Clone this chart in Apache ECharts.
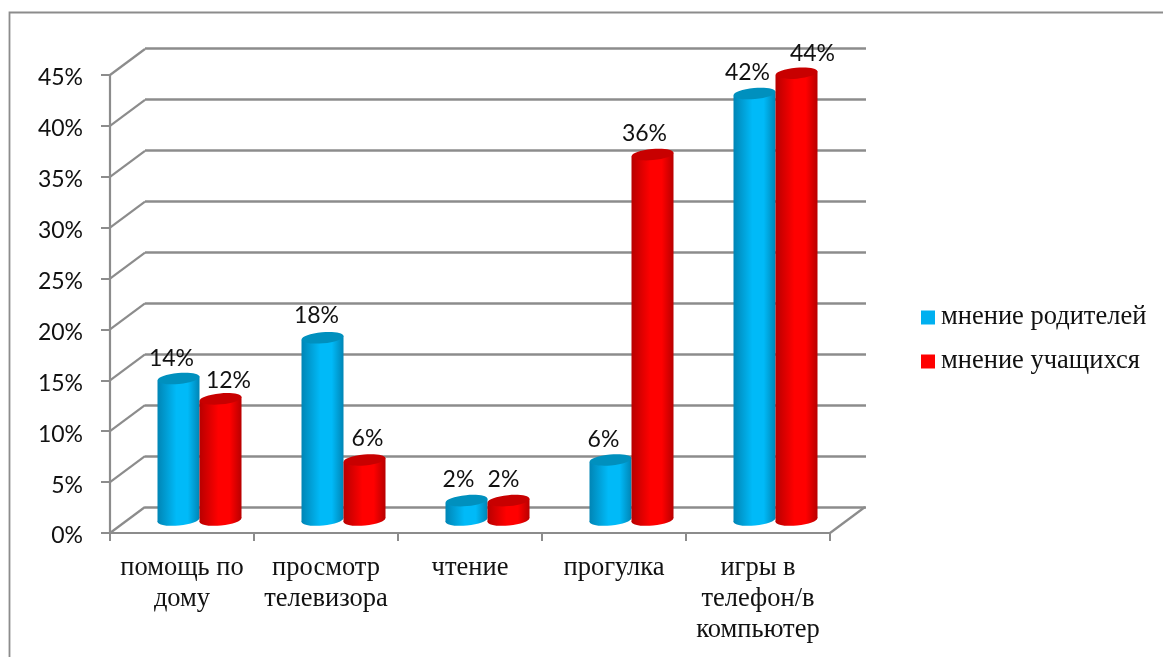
<!DOCTYPE html>
<html><head><meta charset="utf-8">
<style>html,body{margin:0;padding:0;background:#fff}#c{width:1163px;height:657px}</style>
<script src="https://cdn.jsdelivr.net/npm/echarts@6/dist/echarts.min.js"></script>
</head><body><div id="c"></div>
<script>
const categories = ['помощь по\nдому', 'просмотр\nтелевизора', 'чтение', 'прогулка', 'игры в\nтелефон/в\nкомпьютер'];
const parents = [14, 18, 2, 6, 42];
const students = [12, 6, 2, 36, 44];
const parentsName = 'мнение родителей';
const studentsName = 'мнение учащихся';
const yTicks = [0, 5, 10, 15, 20, 25, 30, 35, 40, 45];

// label nudges relative to the cylinder top, per series / category
const nudgeParents = [[-7, -20], [-6, -22], [-8, -21], [-7, -20], [-7, -21]];
const nudgeStudents = [[8, -18], [3, -21], [-5, -21], [-8, -21], [16, -20]];

const GREY = '#8c8c8c';
const DEPTH = [35, -26];
const W = 42, RY = 5.5, TILT = 2, ROT = 0.09;
const chart = echarts.init(document.getElementById('c'), null, {renderer: 'canvas'});

function cyl(side, dark, mid, topColor, nudge) {
  return function (params, api) {
    const i = api.value(0), v = api.value(1);
    const top = api.coord([i, v]), base = api.coord([i, 0]);
    const x0 = top[0] + DEPTH[0] / 2 + (side < 0 ? -W : 0), x1 = x0 + W, cx = x0 + W / 2;
    const ty = top[1] + DEPTH[1] / 2 + 1, by = base[1] + DEPTH[1] / 2;
    const fill = new echarts.graphic.LinearGradient(0, 0, 1, 0, [
      {offset: 0, color: dark}, {offset: 0.45, color: mid}, {offset: 0.72, color: mid}, {offset: 1, color: dark}]);
    return {type: 'group', children: [
      {type: 'ellipse', x: cx, y: by, rotation: ROT, shape: {cx: 0, cy: 0, rx: W / 2, ry: RY}, style: {fill}},
      {type: 'polygon', shape: {points: [[x0, ty + TILT], [x1, ty - TILT], [x1, by - TILT], [x0, by + TILT]]}, style: {fill}},
      {type: 'ellipse', x: cx, y: ty, rotation: ROT, shape: {cx: 0, cy: 0, rx: W / 2, ry: RY}, style: {fill: topColor}},
      {type: 'text', z2: 50, style: {text: v + '%', x: cx + nudge[i][0], y: ty + nudge[i][1], align: 'center', verticalAlign: 'middle',
        font: '23px Lato', fill: '#111'}}
    ]};
  };
}

const wallSeries = {
  type: 'custom', xAxisIndex: 0, yAxisIndex: 0, silent: true, z: 1, clip: false,
  data: yTicks.map(v => [v]), encode: {y: 0},
  renderItem(params, api) {
    const y = api.coord([0, api.value(0)])[1], x = params.coordSys.x;
    const ln = (xx) => ({type: 'line', shape: {x1: xx, y1: y, x2: xx + DEPTH[0], y2: y + DEPTH[1]}, style: {stroke: GREY, lineWidth: 2.2}});
    const kids = [ln(x)];
    if (api.value(0) === 0) kids.push(ln(x + params.coordSys.width));
    return {type: 'group', children: kids};
  }
};

chart.setOption({
  animation: false,
  backgroundColor: '#fff',
  graphic: [{type: 'polyline', silent: true, shape: {points: [[9.5, 700], [9.5, 12.5], [1170, 12.5]]},
    style: {fill: 'none', stroke: GREY, lineWidth: 1.8}}],
  legend: {orient: 'vertical', left: 916, top: 299, itemWidth: 14, itemHeight: 14, itemGap: 17, icon: 'rect',
    selectedMode: false, data: [parentsName, studentsName],
    textStyle: {fontFamily: 'Liberation Serif', fontSize: 26.5, color: '#111', padding: [0, 0, 0, 1]}},
  grid: [
    {left: 110, top: 75, width: 720, height: 458},
    {left: 145, top: 48, width: 721, height: 459}
  ],
  xAxis: [
    {type: 'category', gridIndex: 0, data: categories, boundaryGap: true,
      axisLine: {lineStyle: {color: GREY, width: 2.2}}, axisTick: {show: true, length: 8, lineStyle: {color: GREY, width: 2}},
      axisLabel: {interval: 0, margin: 20, lineHeight: 31, fontFamily: 'Liberation Serif', fontSize: 26.5, color: '#111'}},
    {type: 'category', gridIndex: 1, data: categories, show: false}
  ],
  yAxis: [
    {type: 'value', gridIndex: 0, min: 0, max: 45, interval: 5,
      axisLine: {show: true, lineStyle: {color: GREY, width: 2.2}}, axisTick: {show: true, length: 9, lineStyle: {color: GREY, width: 2}},
      splitLine: {show: false},
      axisLabel: {margin: 27, verticalAlign: 'top', lineHeight: 6, formatter: '{value}%', fontFamily: 'Lato', fontSize: 23, color: '#111'}},
    {type: 'value', gridIndex: 1, min: 0, max: 45, interval: 5,
      axisLine: {show: false}, axisTick: {show: false}, axisLabel: {show: false},
      splitLine: {show: true, lineStyle: {color: GREY, width: 2.6}}}
  ],
  series: [
    wallSeries,
    {name: parentsName, type: 'custom', xAxisIndex: 0, yAxisIndex: 0, z: 3, clip: false, itemStyle: {color: '#00B0F0'},
      data: parents.map((v, i) => [i, v]), encode: {x: 0, y: 1},
      renderItem: cyl(-1, '#0085B5', '#00BAF8', '#0090BE', nudgeParents)},
    {name: studentsName, type: 'custom', xAxisIndex: 0, yAxisIndex: 0, z: 4, clip: false, itemStyle: {color: '#FF0000'},
      data: students.map((v, i) => [i, v]), encode: {x: 0, y: 1},
      renderItem: cyl(1, '#B80000', '#FF0000', '#C80000', nudgeStudents)}
  ]
});
</script></body></html>
